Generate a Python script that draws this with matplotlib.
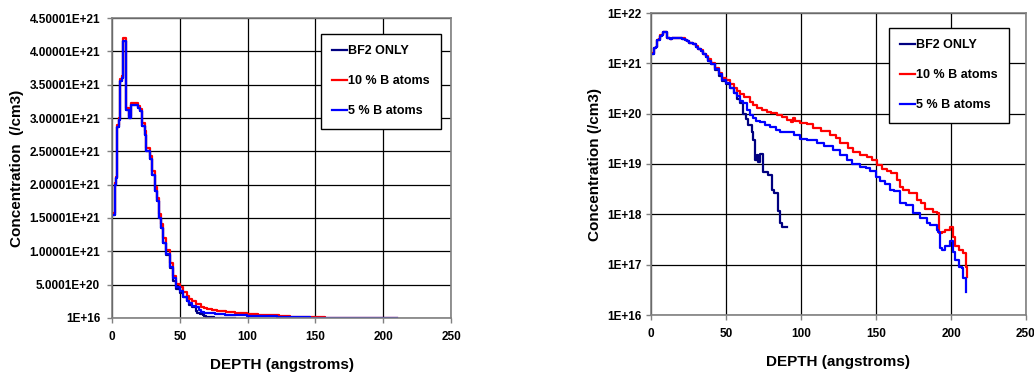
import matplotlib
matplotlib.use("Agg")
import matplotlib.pyplot as plt
from matplotlib.ticker import FixedLocator, FixedFormatter, NullLocator

plt.rcParams['font.family'] = ['Liberation Sans', 'DejaVu Sans']
plt.rcParams['font.weight'] = 'bold'

# ---------------- data ----------------
bf2_depth = [1.5, 2, 3.2, 3.7, 5.2, 5.7, 7.6, 7.9, 10.6, 12.5, 14, 19, 20.4, 22.4,
             24.1, 25.4, 27.8, 29.8, 31.5, 33.3, 34.7, 36.5, 37.7, 40, 42.5, 45,
             47.5, 50, 52.5, 55, 57, 59.3, 61.6, 63, 64.9, 67.1, 68.2, 69.3, 70.5,
             71.6, 72.7, 74.4, 74.9, 78.2, 80.4, 82, 84.9, 86, 87, 90.4]
bf2_conc = [1.55e21, 2.0e21, 2.1e21, 2.87e21, 2.97e21, 3.55e21, 3.6e21, 4.15e21,
            3.12e21, 3.0e21, 3.2e21, 3.15e21, 3.1e21, 2.88e21, 2.75e21, 2.5e21,
            2.38e21, 2.15e21, 1.9e21, 1.75e21, 1.5e21, 1.35e21, 1.13e21, 9.5e20,
            7.5e20, 5.6e20, 4.4e20, 3.8e20, 3.2e20, 2.6e20, 2.0e20, 1.6e20,
            1.0e20, 8.0e19, 6.0e19, 4.4e19, 3.0e19, 1.2e19, 1.5e19, 1.1e19,
            1.6e19, 1.4e19, 7.0e18, 6.0e18, 3.0e18, 2.6e18, 1.15e18, 6.6e17,
            5.7e17, 5.7e17]

b10_depth = [1.5, 2, 3.2, 3.7, 5.2, 5.7, 7.6, 7.9, 10.6, 12.5, 14, 19, 20.4, 22.4,
             24.1, 25.4, 27.8, 29.8, 31.5, 33.3, 34.7, 36.5, 37.7, 40, 42.5, 45,
             47.5, 50, 52.5, 55, 57, 59.3, 62, 66, 68, 70.4, 74, 77.1, 80, 83.8,
             87, 90.4, 93, 94.5, 96, 99.3, 104, 108, 113, 119.3, 123, 126, 131,
             134.9, 139, 143.8, 147, 150.4, 154, 157.1, 160, 163.8, 166, 168.2,
             172, 177.1, 180, 182.7, 186, 188, 190.4, 192.2, 194, 196, 199.3,
             201.1, 202.7, 205, 208.2, 210, 210.5]
b10_conc = [1.57e21, 2.02e21, 2.12e21, 2.9e21, 3.0e21, 3.58e21, 3.63e21, 4.2e21,
            3.15e21, 3.03e21, 3.23e21, 3.18e21, 3.13e21, 2.92e21, 2.8e21, 2.55e21,
            2.43e21, 2.2e21, 1.96e21, 1.8e21, 1.56e21, 1.41e21, 1.2e21, 1.02e21,
            8.2e20, 6.3e20, 5.1e20, 4.6e20, 3.9e20, 3.3e20, 2.8e20, 2.5e20,
            2.1e20, 1.7e20, 1.5e20, 1.3e20, 1.2e20, 1.1e20, 1.05e20, 9.3e19,
            8.5e19, 7.4e19, 6.9e19, 8.1e19, 7.3e19, 6.5e19, 6.2e19, 5.1e19,
            4.6e19, 3.8e19, 3.3e19, 2.6e19, 2.1e19, 1.74e19, 1.5e19, 1.4e19,
            1.2e19, 9.5e18, 8.0e18, 7.1e18, 6.5e18, 4.8e18, 3.5e18, 3.0e18,
            2.6e18, 1.9e18, 1.7e18, 1.3e18, 1.3e18, 1.1e18, 1.05e18, 4.2e17,
            4.5e17, 4.9e17, 5.6e17, 3.6e17, 2.3e17, 2.0e17, 1.7e17, 9.1e16,
            5.8e16]

b5_depth = [1.5, 2, 3.2, 3.7, 5.2, 5.7, 7.6, 7.9, 10.6, 12.5, 14, 19, 20.4, 22.4,
            24.1, 25.4, 27.8, 29.8, 31.5, 33.3, 34.7, 36.5, 37.7, 40, 42.5, 45,
            47.5, 50, 52.5, 55, 57, 59.3, 61.6, 64, 66, 68.2, 70, 72.7, 76, 79.3,
            83, 86, 90, 95, 99.3, 104, 110.4, 115, 121.6, 126, 130.4, 134, 139.3,
            143, 146, 150, 152.7, 156, 159.3, 162, 166, 170, 174.9, 179.3, 183.8,
            186, 188.2, 190.4, 191.6, 192.7, 194, 196, 199.3, 201.1, 202.7, 205,
            207.1, 208.2, 210]
b5_conc = [1.55e21, 2.0e21, 2.1e21, 2.87e21, 2.97e21, 3.55e21, 3.6e21, 4.15e21,
           3.12e21, 3.0e21, 3.2e21, 3.15e21, 3.1e21, 2.88e21, 2.75e21, 2.5e21,
           2.38e21, 2.15e21, 1.9e21, 1.75e21, 1.5e21, 1.35e21, 1.13e21, 9.6e20,
           7.7e20, 6.0e20, 4.7e20, 4.0e20, 3.2e20, 2.6e20, 2.2e20, 1.8e20,
           1.6e20, 1.2e20, 9.5e19, 8.1e19, 7.0e19, 6.9e19, 6.0e19, 5.5e19,
           4.7e19, 4.4e19, 4.3e19, 3.8e19, 3.2e19, 3.0e19, 2.6e19, 2.3e19,
           1.9e19, 1.5e19, 1.2e19, 1.0e19, 8.9e18, 8.5e18, 7.1e18, 5.5e18,
           4.5e18, 4.0e18, 3.0e18, 2.9e18, 1.7e18, 1.5e18, 1.05e18, 8.3e17,
           6.6e17, 6.0e17, 6.2e17, 4.8e17, 4.5e17, 2.1e17, 2.0e17, 2.3e17,
           2.9e17, 1.8e17, 1.23e17, 9.0e16, 8.5e16, 5.4e16, 2.9e16]

series_labels = ["BF2 ONLY", "10 % B atoms", "5 % B atoms"]
series_colors = ["#000080", "#FF0000", "#0000FF"]

x_ticks = [0, 50, 100, 150, 200, 250]
lin_ticks = [1e16, 5.0001e20, 1.00001e21, 1.50001e21, 2.00001e21, 2.50001e21,
             3.00001e21, 3.50001e21, 4.00001e21, 4.50001e21]
lin_tick_labels = ["1E+16", "5.0001E+20", "1.00001E+21", "1.50001E+21",
                   "2.00001E+21", "2.50001E+21", "3.00001E+21", "3.50001E+21",
                   "4.00001E+21", "4.50001E+21"]
log_ticks = [1e16, 1e17, 1e18, 1e19, 1e20, 1e21, 1e22]
log_tick_labels = ["1E+16", "1E+17", "1E+18", "1E+19", "1E+20", "1E+21", "1E+22"]

# ---------------- figure ----------------
W, H = 1034, 373
fig = plt.figure(figsize=(W / 100, H / 100), dpi=100)
fig.patch.set_facecolor("white")

def px_axes(x0, x1, ytop, ybot):
    return fig.add_axes([x0 / W, (H - ybot) / H, (x1 - x0) / W, (ybot - ytop) / H])

ax1 = px_axes(112, 451, 18, 318)
ax2 = px_axes(651, 1026, 13, 315)

data = [(bf2_depth, bf2_conc), (b10_depth, b10_conc), (b5_depth, b5_conc)]

for ax in (ax1, ax2):
    for (d, c), lab, col in zip(data, series_labels, series_colors):
        ax.plot(d, c, drawstyle="steps-post", color=col, lw=1.6, label=lab)
    ax.set_xlim(0, 250)
    ax.set_xticks(x_ticks)
    ax.grid(True, color="black", lw=0.9)
    ax.set_axisbelow(True)
    for s in ax.spines.values():
        s.set_color("#808080")
        s.set_linewidth(1.2)
    ax.tick_params(direction="out", length=3.5, width=1, color="#808080",
                   labelsize=8.5)
    ax.tick_params(axis="x", pad=6)
    ax.set_xlabel("DEPTH (angstroms)", fontsize=11, fontweight="bold", labelpad=11)

# left: linear
ax1.set_ylim(1e16, 4.50001e21)
ax1.yaxis.set_major_locator(FixedLocator(lin_ticks))
ax1.yaxis.set_major_formatter(FixedFormatter(lin_tick_labels))
ax1.yaxis.set_minor_locator(NullLocator())
ax1.tick_params(axis="y", pad=5)
ax1.set_ylabel("Concentration  (/cm3)", fontsize=11, fontweight="bold")

# right: log
ax2.set_yscale("log")
ax2.set_ylim(1e16, 1e22)
ax2.yaxis.set_major_locator(FixedLocator(log_ticks))
ax2.yaxis.set_major_formatter(FixedFormatter(log_tick_labels))
ax2.yaxis.set_minor_locator(NullLocator())
ax2.tick_params(axis="y", pad=3)
ax2.set_ylabel("Concentration (/cm3)", fontsize=11, fontweight="bold")

for t in ax1.get_xticklabels() + ax1.get_yticklabels() + ax2.get_xticklabels() + ax2.get_yticklabels():
    t.set_fontweight("bold")

def add_legend(ax, x0, ytop):
    leg = ax.legend(loc="upper left",
                    bbox_to_anchor=(x0 / W, 1 - ytop / H),
                    bbox_transform=fig.transFigure,
                    prop={"size": 9, "weight": "bold"},
                    frameon=True, fancybox=False, shadow=False,
                    handlelength=1.2, handletextpad=0.1, labelspacing=1.45,
                    borderpad=0.9, borderaxespad=0)
    fr = leg.get_frame()
    fr.set_edgecolor("black")
    fr.set_linewidth(1.0)
    fr.set_facecolor("white")
    fr.set_alpha(1)
    return leg

add_legend(ax1, 321, 34)
add_legend(ax2, 889, 28)

p1 = ax1.get_position()
p2 = ax2.get_position()
ax1.yaxis.set_label_coords(24 / W, 0.5 * (p1.y0 + p1.y1), transform=fig.transFigure)
ax2.yaxis.set_label_coords(602 / W, 0.5 * (p2.y0 + p2.y1), transform=fig.transFigure)

fig.savefig("out.png", dpi=100, facecolor="white")
